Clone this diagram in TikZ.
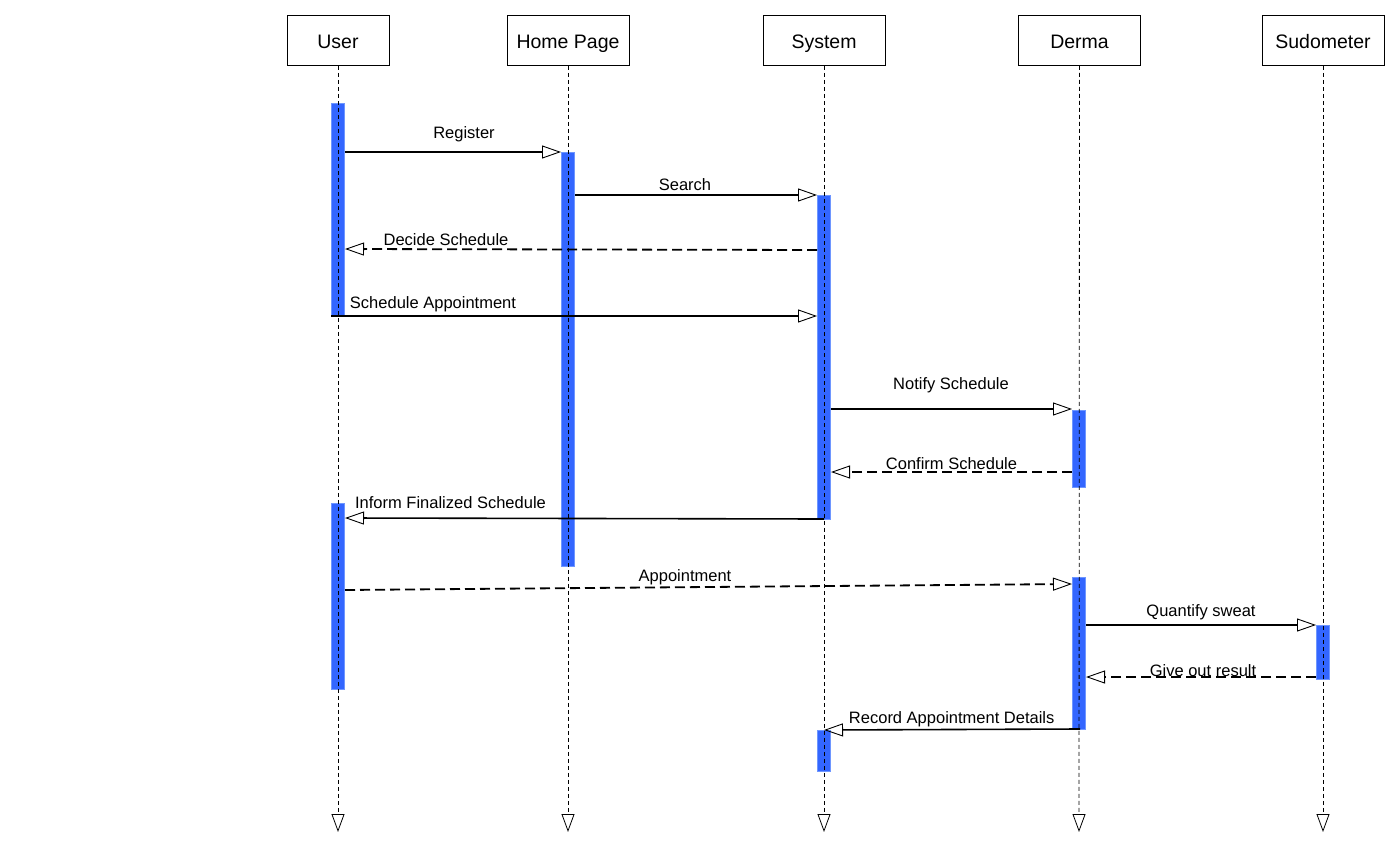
\documentclass[tikz,border=0pt]{standalone}
\usepackage{fontspec}
\setmainfont{Liberation Sans}
\usetikzlibrary{arrows.meta}
\definecolor{barblue}{RGB}{51,102,255}
\definecolor{baredge}{RGB}{110,150,255}
\newcommand{\actbar}[4]{\node[actbox, minimum height={(#4-#3)*1pt}] (#1) at (#2,{(#3+#4)/2}) {};}
\begin{document}
\begin{tikzpicture}[x=1pt,y=-1pt,
  head/.style={draw, line width=0.8pt, minimum height=50pt, inner sep=0pt, text height=16pt, text depth=0pt, font=\fontsize{19.5}{22}\selectfont},
  life/.style={line width=0.8pt, dash pattern=on 4pt off 3pt, -{Triangle[open,length=18pt,width=13pt,line width=0.8pt]}},
  actbox/.style={fill=barblue, draw=baredge, line width=0.6pt, minimum width=13.5pt, inner sep=0pt},
  msg/.style={line width=1.6pt, -{Triangle[open,length=19pt,width=13pt,line width=0.9pt]}},
  reply/.style={msg, line width=1.8pt, dash pattern=on 10pt off 5pt},
  lbl/.style={anchor=base, inner sep=0pt, font=\fontsize{16.5}{18}\selectfont}
]
\useasboundingbox (0,0) rectangle (1400,864);

% participants
\node[head, minimum width=102pt] (user) at (338,40.5) {User};
\node[head, minimum width=122pt] (home) at (568,40.5) {Home Page};
\node[head, minimum width=122pt] (sys)  at (824,40.5) {System};
\node[head, minimum width=122pt] (derma) at (1079.5,40.5) {Derma};
\node[head, minimum width=122pt] (sudo) at (1323,40.5) {Sudometer};

% activation bars
\actbar{u1}{338}{103}{316}
\actbar{u2}{338}{503}{689}
\actbar{h1}{568}{152}{566}
\actbar{s1}{824}{195}{519}
\actbar{s2}{824}{730}{771}
\actbar{d1}{1079}{410}{487}
\actbar{d2}{1079}{577}{729}
\actbar{m1}{1323}{625}{679}

% lifeline ends
\coordinate (user-end) at (338,832);
\coordinate (home-end) at (568,832);
\coordinate (sys-end) at (824,832);
\coordinate (derma-end) at (1079,832);
\coordinate (sudo-end) at (1323,832);

\draw[life] (user.south) -- (user-end);
\draw[life] (home.south) -- (home-end);
\draw[life] (sys.south) -- (sys-end);
\draw[life] (derma.south) -- (derma-end);
\draw[life] (sudo.south) -- (sudo-end);

% message end points
\coordinate (reg-a) at (345,152);   \coordinate (reg-b) at (561,152);
\coordinate (sea-a) at (575,195);   \coordinate (sea-b) at (817,195);
\coordinate (dec-a) at (817,250);   \coordinate (dec-b) at (345,249);
\coordinate (sch-a) at (331,316);   \coordinate (sch-b) at (817,316);
\coordinate (not-a) at (831,409);   \coordinate (not-b) at (1072,409);
\coordinate (con-a) at (1072,472);  \coordinate (con-b) at (831,472);
\coordinate (inf-a) at (824,519);   \coordinate (inf-b) at (345,518);
\coordinate (app-a) at (345,590);   \coordinate (app-b) at (1072,584);
\coordinate (qua-a) at (1086,625);  \coordinate (qua-b) at (1316,625);
\coordinate (giv-a) at (1316,677);  \coordinate (giv-b) at (1086,677);
\coordinate (rec-a) at (1080,729);  \coordinate (rec-b) at (824,730);

% messages
\draw[msg]   (reg-a) -- (reg-b);
\draw[msg]   (sea-a) -- (sea-b);
\draw[reply] (dec-a) -- (dec-b);
\draw[msg]   (sch-a) -- (sch-b);
\draw[msg]   (not-a) -- (not-b);
\draw[reply] (con-a) -- (con-b);
\draw[msg]   (inf-a) -- (inf-b);
\draw[reply] (app-a) -- (app-b);
\draw[msg]   (qua-a) -- (qua-b);
\draw[reply] (giv-a) -- (giv-b);
\draw[msg]   (rec-a) -- (rec-b);

% message labels
\node[lbl] (l-reg) at (464,139) {Register};
\node[lbl] (l-sea) at (685,190) {Search};
\node[lbl] (l-dec) at (446,245) {Decide Schedule};
\node[lbl] (l-sch) at (433,308) {Schedule Appointment};
\node[lbl] (l-not) at (951,389) {Notify Schedule};
\node[lbl] (l-con) at (951.5,469) {Confirm Schedule};
\node[lbl] (l-inf) at (450.5,508) {Inform Finalized Schedule};
\node[lbl] (l-app) at (685,581) {Appointment};
\node[lbl] (l-qua) at (1201,616) {Quantify sweat};
\node[lbl] (l-giv) at (1203,676) {Give out result};
\node[lbl] (l-rec) at (951.7,723) {Record Appointment Details};
\end{tikzpicture}
\end{document}
